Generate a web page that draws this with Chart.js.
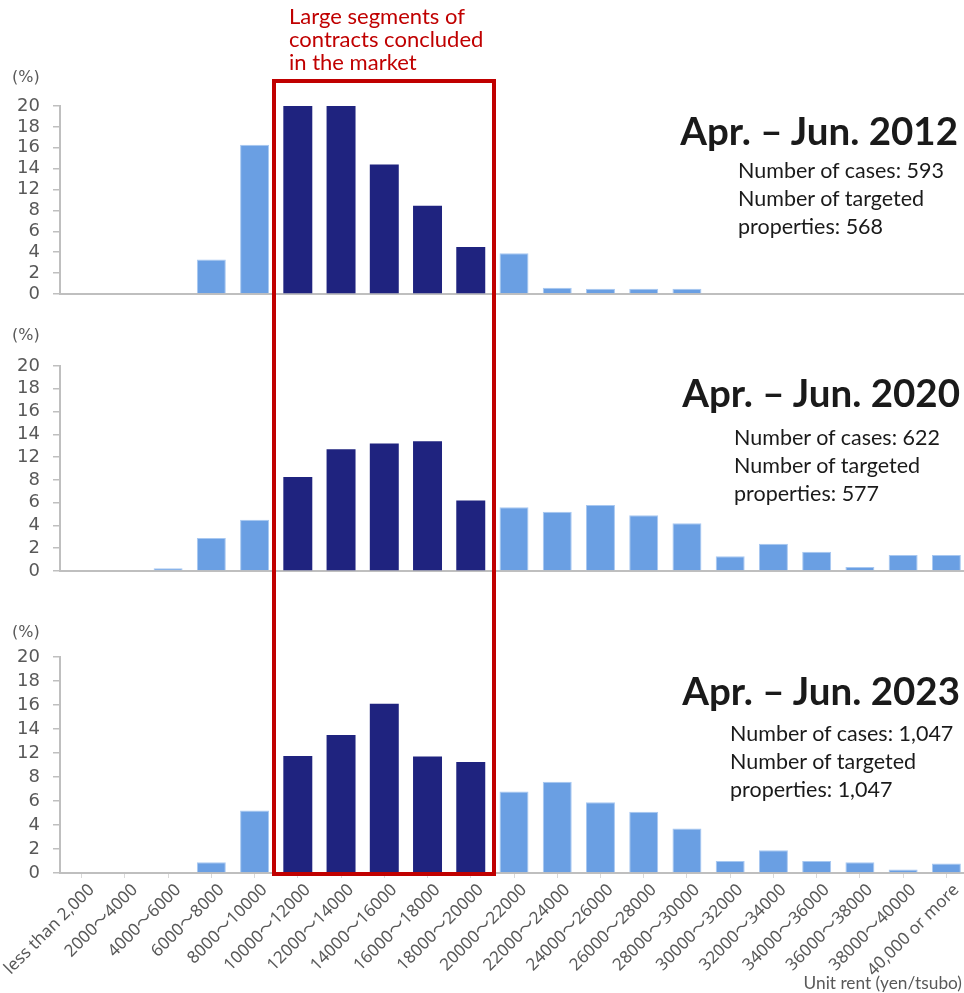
<!DOCTYPE html>
<html>
<head>
<meta charset="utf-8">
<title>Unit rent distribution</title>
<script src="https://cdn.jsdelivr.net/npm/chart.js@4.4.1/dist/chart.umd.min.js"></script>
<style>
  html, body { margin: 0; padding: 0; background: #fff; overflow: hidden; }
  #wrap { position: relative; width: 964px; height: 993px; overflow: hidden; }
  #wrap canvas { position: absolute; left: 0; top: 0; }
  .t { position: absolute; white-space: nowrap; font-family: Lato, "Open Sans", sans-serif; color: #1a1a1a; }
  .title { font-weight: 700; font-size: 38.5px; line-height: 44px; text-align: right; }
  .stats { font-size: 21.5px; line-height: 28px; }
  .pct { font-family: "DejaVu Sans", sans-serif; font-size: 16px; color: #595959; line-height: 20px; }
  .note { color: #C00000; font-size: 22px; line-height: 23px; }
  .unit { color: #595959; font-size: 17.3px; line-height: 20px; }
  #focusBox { position: absolute; border: 4px solid #C00000; box-sizing: border-box; }
</style>
</head>
<body>
<div id="wrap">
  <canvas id="c2012" width="968" height="993"></canvas>
  <canvas id="c2020" width="968" height="993"></canvas>
  <canvas id="c2023" width="968" height="993"></canvas>

  <div id="focusBox"></div>

  <div class="t note" style="left:289px; top:4px;">Large segments of<br>contracts concluded<br>in the market</div>

  <div class="t pct" style="left:12px; top:67px;">(%)</div>
  <div class="t pct" style="left:12px; top:325px;">(%)</div>
  <div class="t pct" style="left:12px; top:622px;">(%)</div>

  <div class="t title" style="right:6px; top:108px;">Apr. – Jun. 2012</div>
  <div class="t stats" style="left:738px; top:156px;">Number of cases: 593<br>Number of targeted<br>properties: 568</div>

  <div class="t title" style="right:4px; top:370px;">Apr. – Jun. 2020</div>
  <div class="t stats" style="left:734px; top:423px;">Number of cases: 622<br>Number of targeted<br>properties: 577</div>

  <div class="t title" style="right:4px; top:668px;">Apr. – Jun. 2023</div>
  <div class="t stats" style="left:730px; top:719px;">Number of cases: 1,047<br>Number of targeted<br>properties: 1,047</div>

  <div class="t unit" style="right:2px; top:973px;">Unit rent (yen/tsubo)</div>
</div>

<script>
// rent bands in yen per tsubo
const rentBands = [
  'less than 2,000', '2000～4000', '4000～6000', '6000～8000', '8000～10000',
  '10000～12000', '12000～14000', '14000～16000', '16000～18000', '18000～20000',
  '20000～22000', '22000～24000', '24000～26000', '26000～28000', '28000～30000',
  '30000～32000', '32000～34000', '34000～36000', '36000～38000', '38000～40000',
  '40,000 or more'
];

// share of contracts per band (%)
const share2012 = [0, 0, 0, 3.3, 16.3, 20, 20, 14.4, 8.9, 4.5, 3.9, 0.6, 0.5, 0.5, 0.5, 0, 0, 0, 0, 0, 0];
const share2020 = [0, 0, 0.25, 2.9, 4.5, 8.5, 12.7, 13.2, 13.4, 6.2, 5.6, 5.2, 5.8, 4.9, 4.2, 1.3, 2.4, 1.7, 0.35, 1.4, 1.4];
const share2023 = [0, 0, 0, 0.9, 5.2, 11.5, 13.5, 16.1, 11.4, 10.5, 6.8, 7.6, 5.9, 5.1, 3.7, 1.0, 1.9, 1.0, 0.9, 0.3, 0.8];

// value axis ticks as printed (no 10 between 8 and 12)
const yTicks = [0, 2, 4, 6, 8, 12, 14, 16, 18, 20];

// bands inside the red box
const focusFirst = 5;
const focusLast = 9;

const LIGHT = '#6A9FE3';
const LIGHT_EDGE = '#A8C8F1';
const NAVY = '#1F237F';
const AXIS = '#BFBFBF';
const TICK_TEXT = '#595959';

// linear scale that spaces the printed ticks evenly and interpolates between them
const LinearScale = Chart.LinearScale || Chart.registry.getScale('linear');
class PrintedTickScale extends LinearScale {
  determineDataLimits() {
    this.min = yTicks[0];
    this.max = yTicks[yTicks.length - 1];
  }
  buildTicks() {
    return yTicks.map(value => ({ value }));
  }
  getPixelForValue(value) {
    if (value === null || isNaN(value)) return NaN;
    const n = yTicks.length - 1;
    let i = 0;
    while (i < n - 1 && value > yTicks[i + 1]) i++;
    const pos = i + (value - yTicks[i]) / (yTicks[i + 1] - yTicks[i]);
    return this.getPixelForDecimal(pos / n);
  }
  getValueForPixel(pixel) {
    const n = yTicks.length - 1;
    const pos = Math.max(0, Math.min(n, this.getDecimalForPixel(pixel) * n));
    const i = Math.min(n - 1, Math.floor(pos));
    return yTicks[i] + (pos - i) * (yTicks[i + 1] - yTicks[i]);
  }
}
PrintedTickScale.id = 'printedTick';
PrintedTickScale.defaults = {};
Chart.register(PrintedTickScale);

const inFocus = i => i >= focusFirst && i <= focusLast;

function makePanel(canvasId, values, top, bottom, showLabels) {
  return new Chart(document.getElementById(canvasId), {
    type: 'bar',
    data: {
      labels: rentBands,
      datasets: [{
        data: values,
        backgroundColor: ctx => inFocus(ctx.dataIndex) ? NAVY : LIGHT,
        borderColor: ctx => inFocus(ctx.dataIndex) ? NAVY : LIGHT_EDGE,
        borderWidth: ctx => (inFocus(ctx.dataIndex) || !ctx.raw) ? 0 : 1,
        borderSkipped: 'start',
        categoryPercentage: 1,
        barPercentage: 0.67
      }]
    },
    options: {
      responsive: false,
      animation: false,
      events: [],
      layout: { padding: { top: top, bottom: showLabels ? 0 : 993 - bottom, left: 0, right: 0 } },
      plugins: { legend: { display: false }, tooltip: { enabled: false } },
      scales: {
        x: {
          grid: {
            offset: false,
            drawOnChartArea: false,
            drawTicks: showLabels,
            tickLength: 5,
            color: '#D9D9D9'
          },
          border: { color: AXIS, width: 2 },
          ticks: {
            display: showLabels,
            autoSkip: false,
            minRotation: 45,
            maxRotation: 45,
            padding: 2,
            labelOffset: 10,
            color: TICK_TEXT,
            font: { family: '"Noto Sans", "Noto Sans CJK JP", sans-serif', size: 17 }
          },
          afterFit: scale => {
            scale.height = showLabels ? 993 - bottom : 0;
            scale.paddingLeft = 0;
            scale.paddingRight = 0;
          }
        },
        y: {
          type: 'printedTick',
          grid: { drawOnChartArea: false, tickLength: 7, color: AXIS, lineWidth: 1.5 },
          border: { color: AXIS, width: 2 },
          ticks: {
            autoSkip: false,
            padding: 13,
            color: TICK_TEXT,
            font: { family: '"DejaVu Sans", sans-serif', size: 18 },
            callback: v => String(v)
          },
          afterFit: scale => { scale.width = 60; }
        }
      }
    }
  });
}

const chart2012 = makePanel('c2012', share2012, 106, 294, false);
const chart2020 = makePanel('c2020', share2020, 366, 571, false);
const chart2023 = makePanel('c2023', share2023, 657, 873, true);

// red frame around the focus bands, from the top note down to the last baseline
const xs = chart2023.scales.x;
const band = (xs.right - xs.left) / rentBands.length;
const boxLeft = xs.getPixelForValue(focusFirst) - band / 2 - 4;
const boxRight = xs.getPixelForValue(focusLast) + band / 2 + 4;
const boxBottom = chart2023.scales.y.getPixelForValue(0) + 3;
const box = document.getElementById('focusBox');
box.style.left = boxLeft + 'px';
box.style.top = '79px';
box.style.width = (boxRight - boxLeft) + 'px';
box.style.height = (boxBottom - 79) + 'px';
</script>
</body>
</html>
